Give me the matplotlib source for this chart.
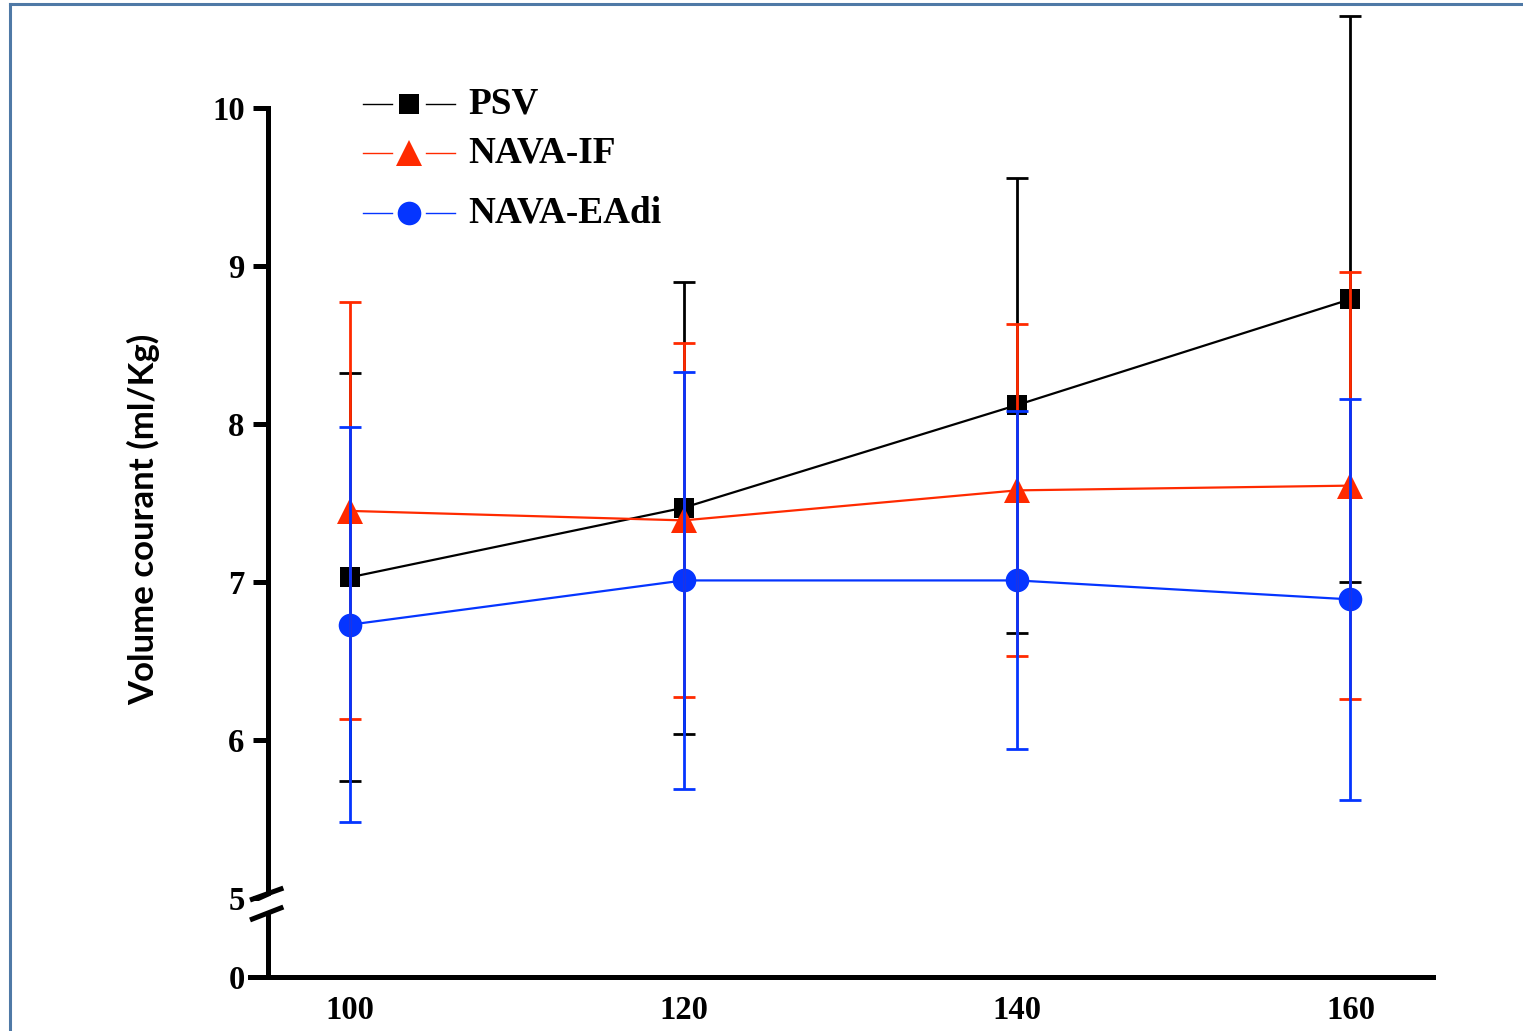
import matplotlib

matplotlib.use("Agg")
import matplotlib.pyplot as plt
from matplotlib.lines import Line2D
from matplotlib.patches import Polygon

# values (mean +/- SD)
x_values = [100, 120, 140, 160]
x_labels = ["100", "120", "140", "160"]
psv_mean = [7.03, 7.47, 8.12, 8.79]
psv_err = [1.29, 1.43, 1.44, 1.79]
nava_if_mean = [7.45, 7.39, 7.58, 7.61]
nava_if_err = [1.32, 1.12, 1.05, 1.35]
nava_eadi_mean = [6.73, 7.01, 7.01, 6.89]
nava_eadi_err = [1.25, 1.32, 1.07, 1.27]
y_ticks = [5, 6, 7, 8, 9, 10]
series_names = ["PSV", "NAVA-IF", "NAVA-EAdi"]

W, H = 1523, 1031
BLACK = "#000000"
RED = "#ff2a00"
BLUE = "#0535ff"
ZERO_POS = 4.5  # compressed position of the "0" below the axis break

serif = ["Liberation Serif", "DejaVu Serif"]

fig = plt.figure(figsize=(W / 100, H / 100), dpi=100)
ax = fig.add_axes([250 / W, 1 - 977 / H, (1433 - 250) / W, (977 - 5) / H])

series = [
    (psv_mean, psv_err, BLACK, "s", 15),
    (nava_if_mean, nava_if_err, RED, "^", 19),
    (nava_eadi_mean, nava_eadi_err, BLUE, "o", 17),
]

for mean, err, color, marker, size in series:
    ax.plot(x_values, mean, color=color, linewidth=1.6, zorder=2)
    ax.plot(x_values, mean, linestyle="none", marker=marker, markersize=size,
            color=color, markeredgewidth=0, zorder=3)
for mean, err, color, marker, size in series:
    ax.errorbar(x_values, mean, yerr=err, fmt="none", ecolor=color,
                elinewidth=2.0, capsize=8, capthick=2.0, zorder=4)

ax.set_xlim(94.0, 164.95)
ax.set_ylim(ZERO_POS, 10.652)

for side in ["top", "right"]:
    ax.spines[side].set_visible(False)
ax.spines["left"].set_position(("data", 95.1))
ax.spines["left"].set_bounds(ZERO_POS, 10)
ax.spines["left"].set_linewidth(3.6)
ax.spines["bottom"].set_linewidth(3.6)

ax.set_yticks([ZERO_POS] + y_ticks)
ax.set_yticklabels(["0"] + [str(t) for t in y_ticks])
ax.set_xticks(x_values)
ax.set_xticklabels(x_labels)
ax.tick_params(axis="y", length=11, width=3.6, pad=6, direction="out")
ax.tick_params(axis="x", length=0, pad=13)
for lab in ax.get_xticklabels() + ax.get_yticklabels():
    lab.set_fontfamily(serif)
    lab.set_fontweight("bold")
    lab.set_fontsize(23.5)

# axis break marks around 5
gap = Polygon([(94.4, 4.975), (96.1, 5.055), (96.1, 4.945), (94.4, 4.865)],
              closed=True, facecolor="white", edgecolor="none", zorder=5,
              clip_on=False)
ax.add_patch(gap)
ax.plot([94.0, 96.0], [4.987, 5.063], color=BLACK, linewidth=3.6,
        solid_capstyle="butt", clip_on=False, zorder=6)
ax.plot([94.0, 96.0], [4.861, 4.943], color=BLACK, linewidth=3.6,
        solid_capstyle="butt", clip_on=False, zorder=6)

fig.text(144 / W, 1 - 519 / H, "Volume courant (ml/Kg)", rotation=90,
         ha="center", va="center", fontsize=25, fontweight="bold",
         family=["Lato", "DejaVu Sans"])

# legend drawn by hand to keep the uneven row spacing
legend_rows = [104, 153, 213]
for (mean, err, color, marker, size), name, row in zip(series, series_names, legend_rows):
    yy = 1 - row / H
    for x0, x1 in [(363, 392), (426, 455)]:
        fig.add_artist(Line2D([x0 / W, x1 / W], [yy, yy], color=color,
                              linewidth=1.0, transform=fig.transFigure))
    fig.add_artist(Line2D([409 / W], [yy], marker=marker, markersize=size,
                          color=color, markeredgewidth=0, linestyle="none",
                          transform=fig.transFigure))
    fig.text(468 / W, yy, name, ha="left", va="center", fontsize=26.8,
             fontweight="bold", family=serif)

# blue-grey frame around the picture (only top and left edges are visible)
frame = "#4f79a6"
fig.add_artist(Line2D([9.5 / W, 1.0], [1 - 3.5 / H, 1 - 3.5 / H], color=frame,
                      linewidth=2.2, transform=fig.transFigure))
fig.add_artist(Line2D([9.5 / W, 9.5 / W], [0, 1 - 3.5 / H], color=frame,
                      linewidth=2.2, transform=fig.transFigure))

fig.savefig("out.png", dpi=100)
